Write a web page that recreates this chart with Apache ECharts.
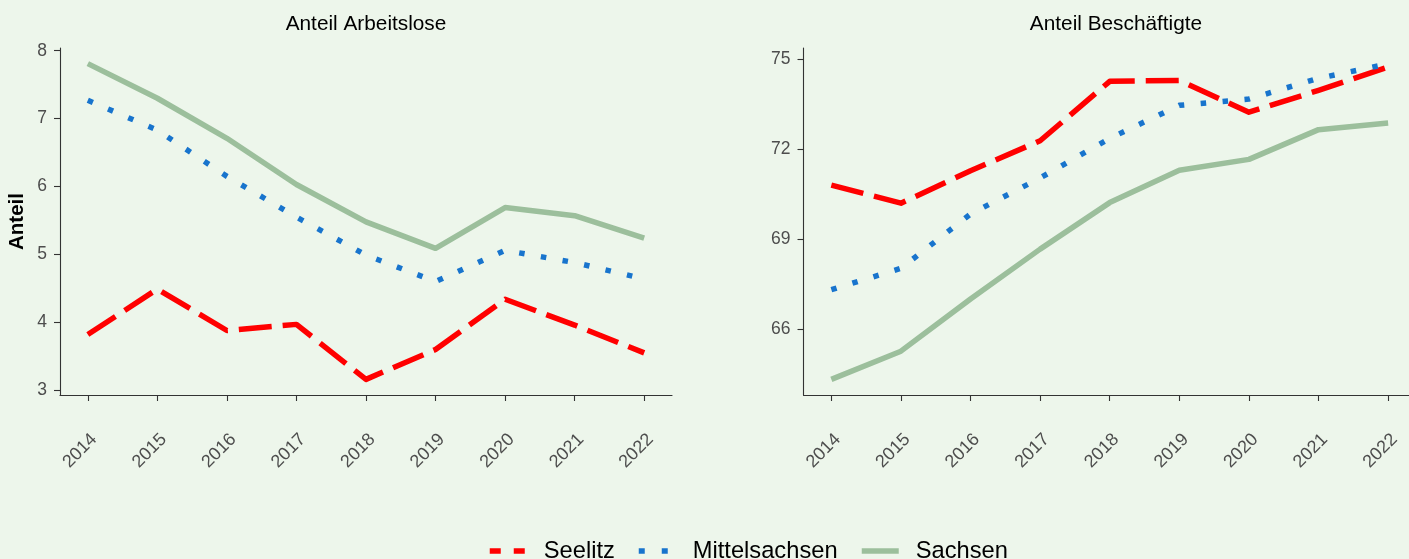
<!DOCTYPE html>
<html>
<head>
<meta charset="utf-8">
<script src="https://cdn.jsdelivr.net/npm/echarts@6/dist/echarts.min.js"></script>
<style>
html,body{margin:0;padding:0;background:#EDF6EB;}
#chart{width:1409px;height:559px;}
</style>
</head>
<body>
<div id="chart"></div>
<script>
// ---- data ----
const years = [2014, 2015, 2016, 2017, 2018, 2019, 2020, 2021, 2022];
const seriesNames = ['Seelitz', 'Mittelsachsen', 'Sachsen'];
const panelTitles = ['Anteil Arbeitslose', 'Anteil Beschäftigte'];

const alSeelitz       = [3.82, 4.49, 3.88, 3.97, 3.16, 3.60, 4.34, 3.96, 3.55];
const alMittelsachsen = [7.27, 6.83, 6.15, 5.55, 4.99, 4.60, 5.06, 4.88, 4.64];
const alSachsen       = [7.81, 7.30, 6.71, 6.03, 5.48, 5.09, 5.69, 5.57, 5.24];

const beSeelitz       = [70.81, 70.21, 71.29, 72.29, 74.27, 74.30, 73.24, 73.97, 74.75];
const beMittelsachsen = [67.33, 68.04, 69.85, 71.05, 72.37, 73.47, 73.68, 74.37, 74.85];
const beSachsen       = [64.34, 65.28, 67.02, 68.68, 70.23, 71.31, 71.67, 72.66, 72.88];

const yTicksLeft  = [3, 4, 5, 6, 7, 8];
const yTicksRight = [66, 69, 72, 75];
const yRangeLeft  = [2.93, 8.04];
const yRangeRight = [63.82, 75.38];
const xRangeLeft  = [2013.6, 2022.4];
const xRangeRight = [2013.6, 2022.3];   // right panel is cut at the page edge

// ---- styles ----
const FONT = '"Liberation Sans", Arial, Helvetica, sans-serif';
const colors = {Seelitz: '#FF0000', Mittelsachsen: '#1874CD', Sachsen: '#9CBF9C'};
const dashes = {Seelitz: [33, 11], Mittelsachsen: [5.5, 16.5], Sachsen: 'solid'};
const legendDashes = {Seelitz: [11, 13], Mittelsachsen: [6, 17], Sachsen: 'solid'};
const LW = 5.5;

const pair = arr => years.map((y, i) => [y, arr[i]]);

const chart = echarts.init(document.getElementById('chart'), null, {renderer: 'canvas'});

function xAxisDef(gridIndex, range) {
  return {
    type: 'value', gridIndex, min: range[0], max: range[1],
    splitLine: {show: false},
    axisLine: {show: true, onZero: false, lineStyle: {color: '#333333', width: 1.1}},
    axisTick: {show: true, customValues: years, length: 6, lineStyle: {color: '#333333', width: 1.1}},
    axisLabel: {
      customValues: years, rotate: 45, margin: 48, padding: [0, -9, 0, 0],
      color: '#4D4D4D', fontSize: 18, fontFamily: FONT,
      formatter: v => String(v)
    }
  };
}
function yAxisDef(gridIndex, range, ticks, name) {
  return {
    type: 'value', gridIndex, min: range[0], max: range[1],
    name: name || '', nameLocation: 'middle', nameGap: 32,
    nameTextStyle: {color: '#000', fontSize: 20.5, fontWeight: 'bold', fontFamily: FONT},
    splitLine: {show: false},
    axisLine: {show: true, lineStyle: {color: '#333333', width: 1.1}},
    axisTick: {show: true, customValues: ticks, length: 6, lineStyle: {color: '#333333', width: 1.1}},
    axisLabel: {customValues: ticks, margin: 13, color: '#4D4D4D', fontSize: 17.5, fontFamily: FONT}
  };
}

const panels = [
  {Seelitz: alSeelitz, Mittelsachsen: alMittelsachsen, Sachsen: alSachsen},
  {Seelitz: beSeelitz, Mittelsachsen: beMittelsachsen, Sachsen: beSachsen}
];

const series = [];
panels.forEach((p, gi) => {
  seriesNames.forEach(n => {
    series.push({
      name: n, type: 'line', xAxisIndex: gi, yAxisIndex: gi,
      data: pair(p[n]), symbol: 'none', showSymbol: false, animation: false,
      lineStyle: {color: colors[n], width: LW, type: dashes[n], cap: 'butt', join: 'round'},
      itemStyle: {color: colors[n]}
    });
  });
});

const legendLefts = [487, 636, 859];
const legends = seriesNames.map((n, i) => ({
  left: legendLefts[i], top: 539, orient: 'horizontal',
  itemWidth: 37, itemHeight: 14, padding: 0,
  data: [{name: n,
          itemStyle: {opacity: 0},
          lineStyle: {color: colors[n], width: LW, type: legendDashes[n], cap: 'butt', opacity: 1}}],
  textStyle: {color: '#000', fontSize: 23.7, fontFamily: FONT, padding: [0, 0, 0, 12]},
  selectedMode: false
}));

chart.setOption({
  backgroundColor: '#EDF6EB',
  animation: false,
  title: [
    {text: panelTitles[0], left: 366, top: 14, textAlign: 'center', padding: 0,
     textStyle: {color: '#000', fontSize: 20.8, fontWeight: 'normal', fontFamily: FONT}},
    {text: panelTitles[1], left: 1116, top: 14, textAlign: 'center', padding: 0,
     textStyle: {color: '#000', fontSize: 20.8, fontWeight: 'normal', fontFamily: FONT}}
  ],
  grid: [
    {left: 60, top: 48, width: 612, height: 347, containLabel: false},
    {left: 803.5, top: 48, width: 605.5, height: 347, containLabel: false}
  ],
  xAxis: [xAxisDef(0, xRangeLeft), xAxisDef(1, xRangeRight)],
  yAxis: [yAxisDef(0, yRangeLeft, yTicksLeft, 'Anteil'), yAxisDef(1, yRangeRight, yTicksRight)],
  legend: legends,
  series: series
});
</script>
</body>
</html>
